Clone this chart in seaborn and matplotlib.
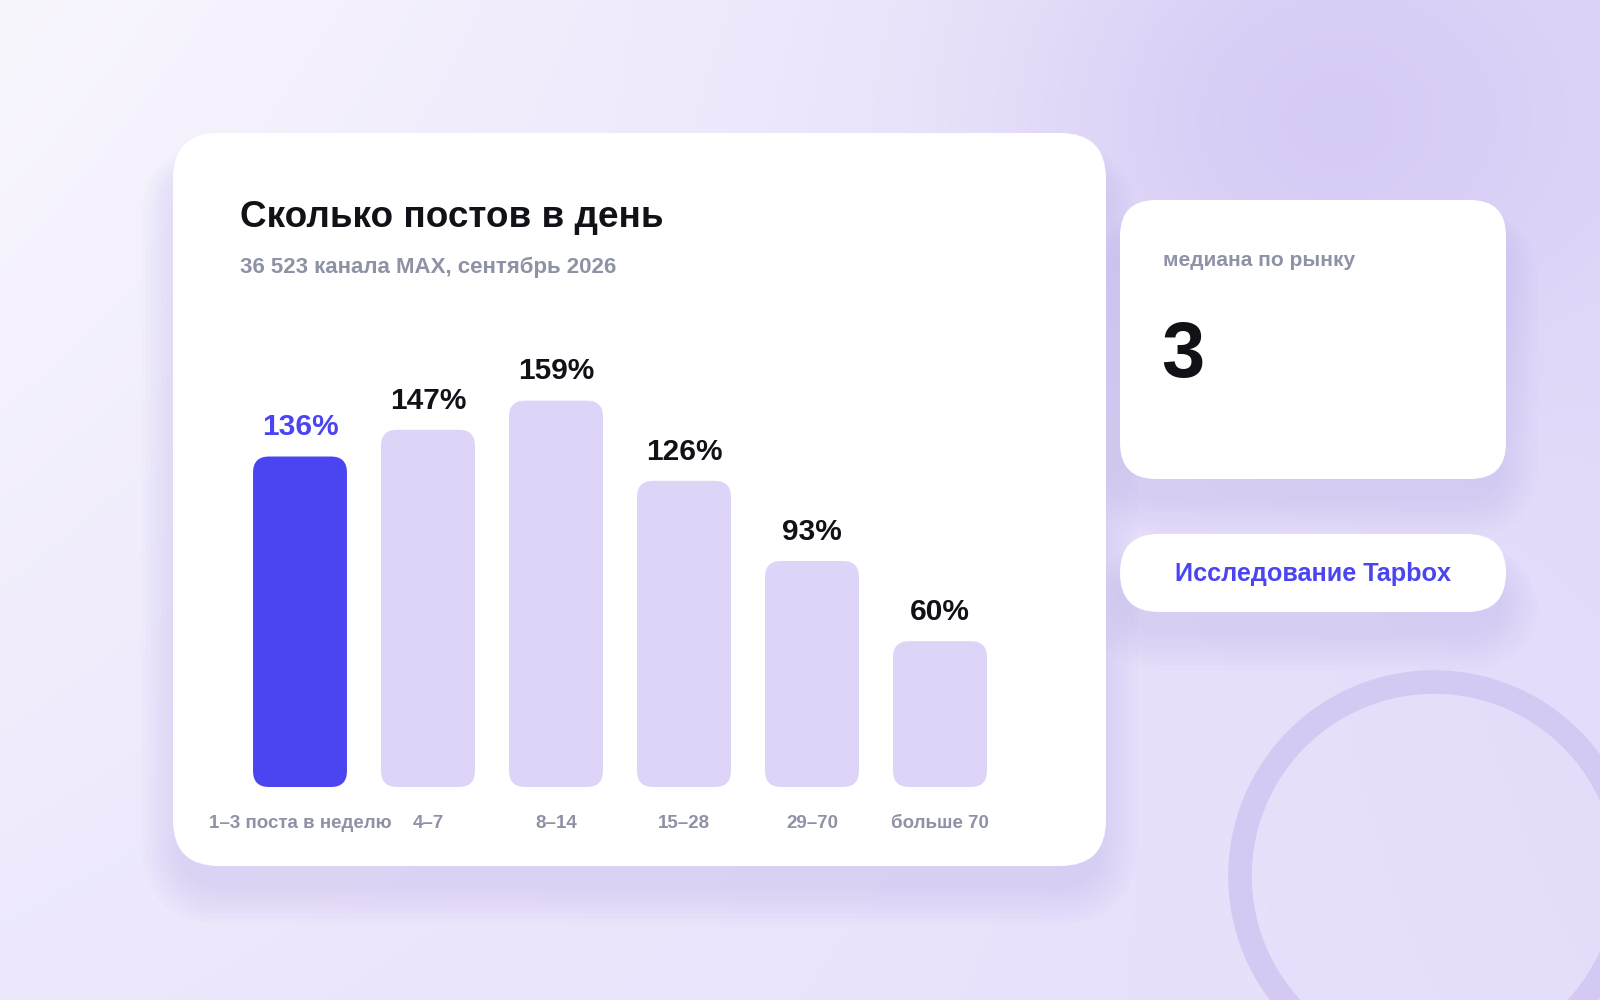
import numpy as np
import pandas as pd
import matplotlib
matplotlib.use("Agg")
import matplotlib.pyplot as plt
from matplotlib.patches import FancyBboxPatch, Circle
from matplotlib.colors import to_rgb
import seaborn as sns

# data
categories = ["1–3 поста в неделю", "4–7", "8–14", "15–28", "29–70", "больше 70"]
values = [136, 147, 159, 126, 93, 60]
highlight = 0
title = "Сколько постов в день"
subtitle = "36 523 канала MAX, сентябрь 2026"
median_label = "медиана по рынку"
median_value = "3"
button_text = "Исследование Tapbox"

BLUE = "#4a45f1"
LIGHT = "#ddd4f8"
DARK = "#111118"
GRAY = "#8e92a5"

sns.set_theme(style="white")
plt.rcParams["font.family"] = ["Liberation Sans", "DejaVu Sans"]

fig = plt.figure(figsize=(16, 10), dpi=100)

# background layer in pixel coords
bg = fig.add_axes([0, 0, 1, 1])
bg.set_xlim(0, 1600)
bg.set_ylim(1000, 0)
bg.axis("off")

yy, xx = np.mgrid[0:1000, 0:1600]
u = xx / 1600.0
v = yy / 1000.0
tl, tr = np.array(to_rgb("#f9f7fe")), np.array(to_rgb("#e2d9f9"))
bl, br = np.array(to_rgb("#ede8fc")), np.array(to_rgb("#e5defb"))
img = ((1 - u)[..., None] * (1 - v)[..., None] * tl + u[..., None] * (1 - v)[..., None] * tr
       + (1 - u)[..., None] * v[..., None] * bl + u[..., None] * v[..., None] * br)
blob = np.exp(-(((xx - 1330) / 300.0) ** 2 + ((yy - 120) / 260.0) ** 2))
img = img * (1 - 0.85 * blob[..., None]) + 0.85 * blob[..., None] * np.array(to_rgb("#d4c8f4"))
bg.imshow(img, extent=(0, 1600, 1000, 0), aspect="auto", zorder=0)

# decorative ring
bg.add_patch(Circle((1434, 876), 194, fill=False, lw=17, ec="#d3c9f3", zorder=1))


def card(x0, y0, x1, y1, r, shadow=True):
    if shadow:
        for i in range(8):
            g = 3 + i * 5
            bg.add_patch(FancyBboxPatch((x0 - g + 6, y0 + 30 - g * 0.5), x1 - x0 + 2 * g - 12,
                                        y1 - y0 + 1.5 * g - 10,
                                        boxstyle=f"round,pad=0,rounding_size={r + g}",
                                        fc="#b9a8ef", ec="none", alpha=0.04, zorder=2))
    bg.add_patch(FancyBboxPatch((x0, y0), x1 - x0, y1 - y0,
                                boxstyle=f"round,pad=0,rounding_size={r}",
                                fc="white", ec="none", zorder=3))


card(173, 133, 1106, 866, 46)
card(1120, 200, 1506, 479, 36)
card(1120, 534, 1506, 612, 39)

bg.text(240, 227, title, fontsize=26.6, fontweight="bold", color=DARK, va="baseline", zorder=5)
bg.text(240, 273, subtitle, fontsize=16, fontweight="bold", color=GRAY, va="baseline", zorder=5)
bg.text(1163, 266, median_label, fontsize=15, fontweight="bold", color=GRAY, va="baseline", zorder=5)
bg.text(1161, 377, median_value, fontsize=56, fontweight="bold", color=DARK, va="baseline", zorder=5)
bg.text(1313, 574, button_text, fontsize=18.2, fontweight="bold", color=BLUE,
        ha="center", va="center", zorder=5)

# chart axes
ax = fig.add_axes([236 / 1600, 213 / 1000, 768 / 1600, 486 / 1000])
ax.patch.set_alpha(0)
df = pd.DataFrame({"cat": categories, "val": values})
colors = [BLUE if i == highlight else LIGHT for i in range(len(categories))]
sns.barplot(data=df, x="cat", y="val", hue="cat", palette=colors, legend=False,
            width=0.734, ax=ax, saturation=1)
ax.set_xlim(-0.5, len(categories) - 0.5)
ax.set_ylim(0, 200)

# round bar corners
aspect = (200 / 486) / (1 / 128)
for p in list(ax.patches):
    x, y, w, h = p.get_x(), p.get_y(), p.get_width(), p.get_height()
    fc = p.get_facecolor()
    p.set_visible(False)
    ax.add_patch(FancyBboxPatch((x, y), w, h, boxstyle="round,pad=0,rounding_size=0.125",
                                mutation_aspect=aspect, fc=fc, ec="none"))

for i, val in enumerate(values):
    ax.text(i, val + 12, f"{val}%", ha="center", va="center", fontsize=21.5, fontweight="bold",
            color=BLUE if i == highlight else DARK)

ax.set_xlabel("")
ax.set_ylabel("")
ax.set_yticks([])
ax.tick_params(axis="x", length=0, pad=20, labelsize=13.5, labelcolor=GRAY)
for lbl in ax.get_xticklabels():
    lbl.set_fontweight("bold")
sns.despine(ax=ax, left=True, bottom=True)

fig.savefig("out.png", dpi=100)
